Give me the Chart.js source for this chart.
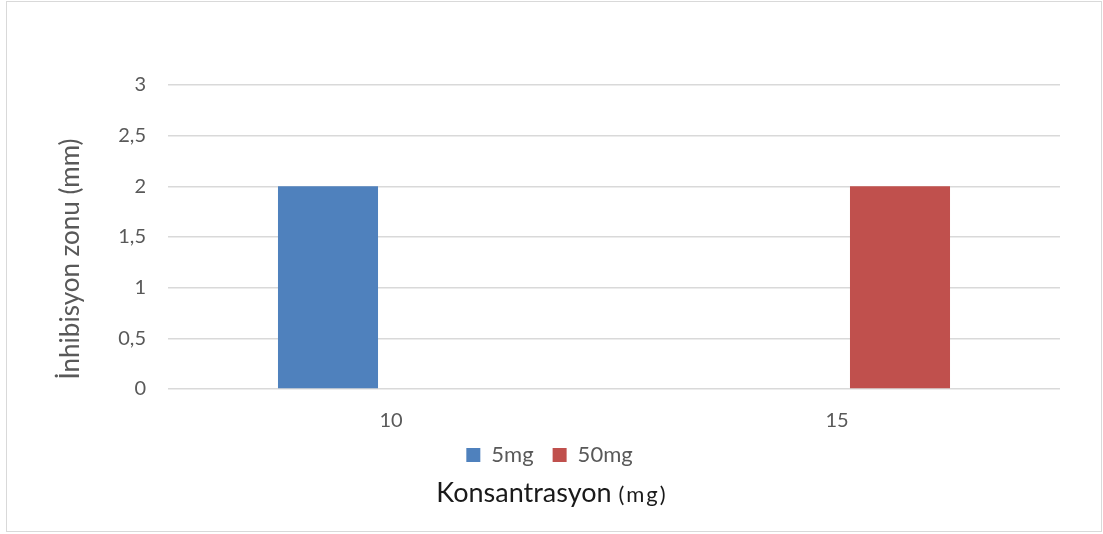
<!DOCTYPE html>
<html>
<head>
<meta charset="utf-8">
<script src="https://cdn.jsdelivr.net/npm/chart.js@4"></script>
<style>
  html, body { margin: 0; padding: 0; background: #fff; }
  #frame {
    position: absolute; left: 6px; top: 1px;
    width: 1094px; height: 529px;
    border: 1px solid #d9d9d9;
  }
</style>
</head>
<body>
<div id="frame"><canvas id="chart" width="1094" height="529"></canvas></div>
<script>
// values
var categories = ['10', '15'];
var seriesNames = ['5mg', '50mg'];
var values5mg = [2, 0];
var values50mg = [0, 2];
var yMin = 0, yMax = 3, yStep = 0.5;

var yTitle = 'İnhibisyon zonu (mm)';
var xTitleMain = 'Konsantrasyon';
var xTitleUnit = '(mg)';

var FONT = 'Lato, "Open Sans", sans-serif';

// Chart.js axis titles only take one font and centre on the axis,
// so both titles are written here by hand
var titlesPlugin = {
  id: 'titles',
  afterLayout: function(chart) {
    // nudge the legend to where the original has it
    chart.legend.top -= 8;
    chart.legend.bottom -= 8;
    chart.legend.left += 16;
    chart.legend.right += 16;
  },
  afterDraw: function(chart) {
    var ctx = chart.ctx;
    ctx.save();
    // y title
    ctx.fillStyle = '#595959';
    ctx.font = '26px ' + FONT;
    ctx.textAlign = 'center';
    ctx.textBaseline = 'middle';
    ctx.translate(64, 257);
    ctx.rotate(-Math.PI / 2);
    ctx.fillText(yTitle, 0, 0);
    ctx.restore();

    // x title, unit in a smaller size
    ctx.save();
    ctx.fillStyle = '#1a1a1a';
    ctx.textBaseline = 'alphabetic';
    ctx.textAlign = 'left';
    ctx.font = '27px ' + FONT;
    var w1 = ctx.measureText(xTitleMain + ' ').width;
    ctx.font = '22px ' + FONT;
    ctx.letterSpacing = '2px';
    var w2 = ctx.measureText(xTitleUnit).width;
    var x0 = 545 - (w1 + w2) / 2;
    ctx.letterSpacing = '0px';
    ctx.font = '27px ' + FONT;
    ctx.fillText(xTitleMain + ' ', x0, 500);
    ctx.font = '22px ' + FONT;
    ctx.letterSpacing = '2px';
    ctx.fillText(xTitleUnit, x0 + w1, 500);
    ctx.restore();
  }
};

var ctx = document.getElementById('chart');
new Chart(ctx, {
  type: 'bar',
  data: {
    labels: categories,
    datasets: [{
      label: seriesNames[0],
      data: values5mg,
      backgroundColor: '#4F81BD',
      borderWidth: 0
    }, {
      label: seriesNames[1],
      data: values50mg,
      backgroundColor: '#C0504D',
      borderWidth: 0
    }]
  },
  options: {
    responsive: false,
    animation: false,
    events: [],
    categoryPercentage: 0.565,
    barPercentage: 0.794,
    layout: { padding: { top: 83, right: 41, left: 0, bottom: 47 } },
    plugins: {
      legend: {
        position: 'bottom',
        labels: {
          color: '#595959',
          font: { family: FONT, size: 22 },
          boxWidth: 14,
          boxHeight: 14,
          padding: 19
        }
      },
      tooltip: { enabled: false },
      title: { display: false }
    },
    scales: {
      x: {
        grid: { display: false, drawTicks: false },
        border: { display: false },
        ticks: {
          color: '#595959',
          font: { family: FONT, size: 20 },
          padding: 20
        },
        afterFit: function(scale) { scale.height = 44; }
      },
      y: {
        min: yMin,
        max: yMax,
        grid: { color: '#d9d9d9', lineWidth: 1.5, drawTicks: false },
        border: { display: false },
        ticks: {
          stepSize: yStep,
          color: '#595959',
          font: { family: FONT, size: 20 },
          padding: 22,
          callback: function(v) { return String(v).replace('.', ','); }
        },
        afterFit: function(scale) { scale.width = 161; }
      }
    }
  },
  plugins: [titlesPlugin]
});
</script>
</body>
</html>
